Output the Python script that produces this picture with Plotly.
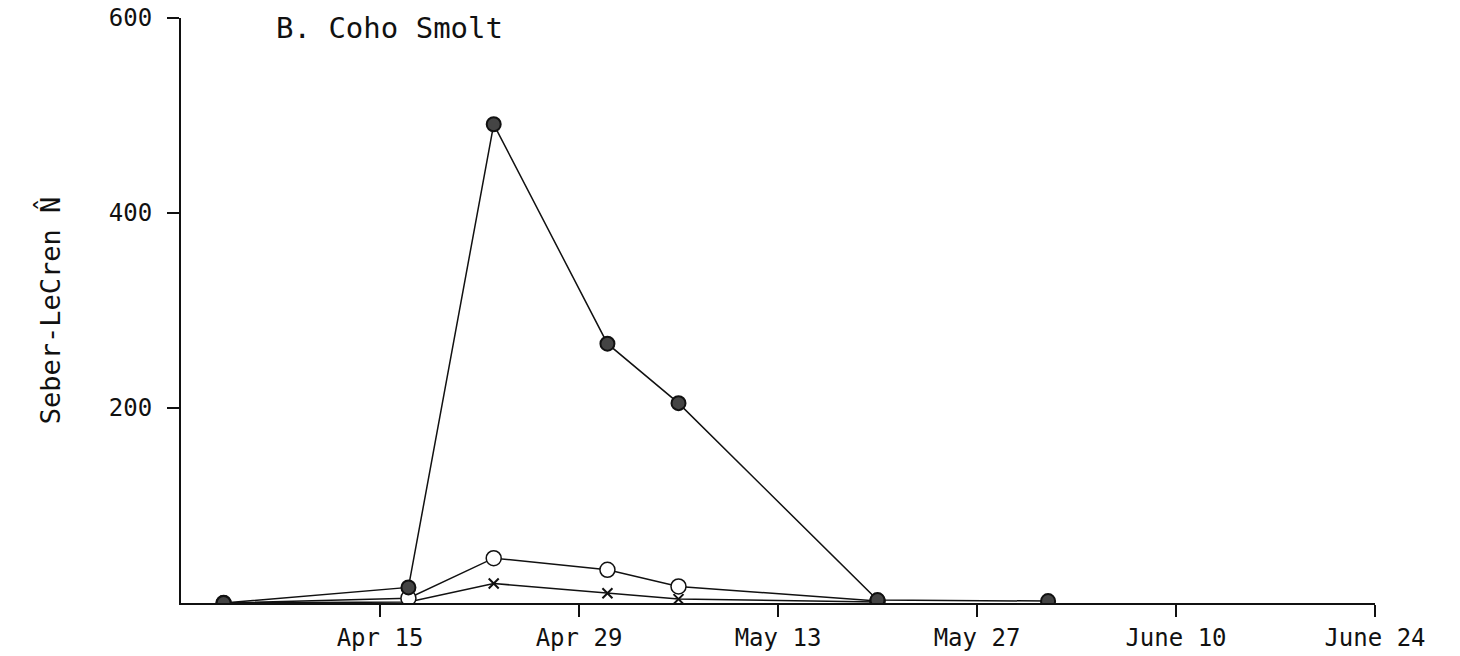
import plotly.graph_objects as go

# Sampling dates (season of 1976) and Seber-LeCren population estimates
dates_all = ["1976-04-04", "1976-04-17", "1976-04-23", "1976-05-01",
             "1976-05-06", "1976-05-20", "1976-06-01"]
n_total = [0, 16, 491, 266, 205, 3, 2]

dates_sub = ["1976-04-04", "1976-04-17", "1976-04-23", "1976-05-01",
             "1976-05-06", "1976-05-20"]
n_open = [0, 5, 46, 34, 17, 2]
n_cross = [0, 1, 20, 10, 4, 1]

tick_dates = ["1976-04-15", "1976-04-29", "1976-05-13", "1976-05-27",
              "1976-06-10", "1976-06-24"]
tick_text = ["Apr 15", "Apr 29", "May 13", "May 27", "June 10", "June 24"]
y_ticks = [200, 400, 600]

FONT = "DejaVu Sans Mono"
INK = "#111111"

fig = go.Figure()

fig.add_trace(go.Scatter(
    x=dates_sub, y=n_cross, mode="lines+markers",
    line=dict(color=INK, width=1.5),
    marker=dict(symbol="x-thin", size=10, line=dict(color=INK, width=2)),
))
fig.add_trace(go.Scatter(
    x=dates_sub, y=n_open, mode="lines+markers",
    line=dict(color=INK, width=1.5),
    marker=dict(symbol="circle", size=15, color="white",
                line=dict(color=INK, width=1.5)),
))
fig.add_trace(go.Scatter(
    x=dates_all, y=n_total, mode="lines+markers",
    line=dict(color=INK, width=1.5),
    marker=dict(symbol="circle", size=14, color="#444444",
                line=dict(color=INK, width=2)),
))

fig.add_annotation(
    text="B. Coho Smolt", xref="paper", yref="paper",
    x=(274 - 181) / 1194, y=(603 - 28) / 585, xanchor="left", yanchor="middle",
    showarrow=False, font=dict(family=FONT, size=29, color=INK),
)

fig.update_layout(
    width=1460, height=656,
    margin=dict(l=181, r=85, t=18, b=53, autoexpand=False),
    paper_bgcolor="white", plot_bgcolor="white",
    showlegend=False,
    font=dict(family=FONT, size=24, color=INK),
)

fig.update_xaxes(
    type="date", range=["1976-04-01", "1976-06-24"],
    tickvals=tick_dates, ticktext=tick_text,
    showline=True, linecolor=INK, linewidth=2,
    ticks="outside", ticklen=12, tickwidth=1.5, tickcolor=INK,
    showgrid=False, zeroline=False, ticklabelstandoff=0,
    automargin=False,
    tickfont=dict(family=FONT, size=24, color=INK),
)
fig.update_yaxes(
    range=[0, 600], tickvals=y_ticks,
    showline=True, linecolor=INK, linewidth=2,
    ticks="outside", ticklen=12, tickwidth=1.5, tickcolor=INK,
    showgrid=False, zeroline=False, ticklabelstandoff=10,
    automargin=False,
    tickfont=dict(family=FONT, size=24, color=INK),
    title=dict(text="Seber-LeCren N\u0302", standoff=40,
               font=dict(family=FONT, size=27, color=INK)),
)

fig.write_html("out.html")
